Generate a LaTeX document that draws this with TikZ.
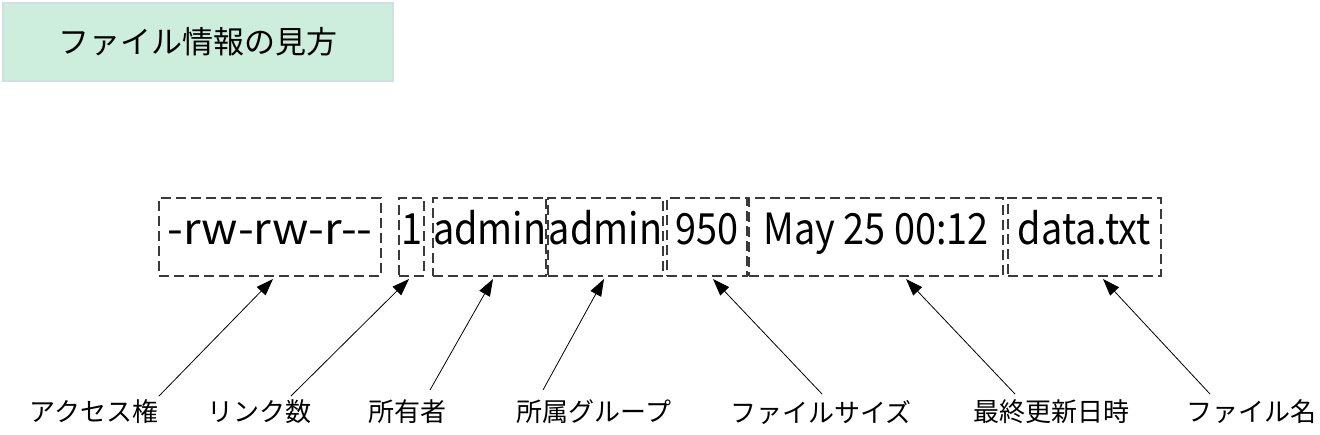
\documentclass[tikz,border=0pt]{standalone}
\usepackage{fontspec}
\setmainfont{Noto Sans CJK JP}
\newfontfamily\fieldfont[FakeStretch=0.88]{Noto Sans CJK JP}
\usetikzlibrary{arrows.meta}
\definecolor{titlefill}{HTML}{CDEEDD}
\definecolor{titleline}{HTML}{D3DDE8}
\definecolor{boxline}{HTML}{3A3A3A}
\tikzset{
  titlebox/.style={draw=titleline, line width=2.5pt, fill=titlefill, inner sep=0pt,
    minimum width=390pt, minimum height=78pt, font=\fontsize{31}{36}\selectfont},
  fieldbox/.style={draw=boxline, line width=2pt, dash pattern=on 10pt off 5pt, inner sep=0pt,
    text height=46pt, text depth=32pt, font=\fieldfont\fontsize{43}{50}\selectfont},
  fieldlabel/.style={inner sep=0pt, font=\fontsize{26}{30}\selectfont},
  pointer/.style={draw=black, line width=0.8pt, -{Triangle[length=17pt,width=12pt]}}
}
\begin{document}
\begin{tikzpicture}[x=1pt,y=-1pt]
\useasboundingbox (0,0) rectangle (1320,434);
\node[titlebox] (title) at (198,42) {ファイル情報の見方};

\node[fieldbox, minimum width=222pt, anchor=north west] (b1) at (158,197) {\scalebox{1.2}[1]{-rw-rw-r{-}{-}}};
\node[fieldbox, minimum width=25pt, anchor=north west] (b2) at (398,197) {1};
\node[fieldbox, minimum width=109pt, anchor=north west] (b3) at (432,197) {admin};
\node[fieldbox, minimum width=115pt, anchor=north west] (b4) at (547,197) {admin};
\node[fieldbox, minimum width=80pt, anchor=north west] (b5) at (666,197) {950};
\node[fieldbox, minimum width=254pt, anchor=north west] (b6) at (748,197) {May 25 00:12};
\node[fieldbox, minimum width=153pt, anchor=north west] (b7) at (1007,197) {data.txt};

\node[fieldlabel] (l1) at (94,412) {アクセス権};
\node[fieldlabel] (l2) at (259,412) {リンク数};
\node[fieldlabel] (l3) at (407,412) {所有者};
\node[fieldlabel] (l4) at (594,412) {所属グループ};
\node[fieldlabel] (l5) at (821,412) {ファイルサイズ};
\node[fieldlabel] (l6) at (1051,412) {最終更新日時};
\node[fieldlabel] (l7) at (1251,412) {ファイル名};

\coordinate (s1) at (159,396);
\coordinate (s2) at (291,396);
\coordinate (s3) at (430,390);
\coordinate (s4) at (543,390);
\coordinate (s5) at (822,394);
\coordinate (s6) at (1015,394);
\coordinate (s7) at (1210,394);
\coordinate (t1) at (273,279);
\coordinate (t2) at (409,279);
\coordinate (t3) at (493,279);
\coordinate (t4) at (604,279);
\coordinate (t5) at (713,279);
\coordinate (t6) at (906,279);
\coordinate (t7) at (1103,279);
\foreach \i in {1,...,7} \draw[pointer] (s\i) -- (t\i);
\end{tikzpicture}
\end{document}
